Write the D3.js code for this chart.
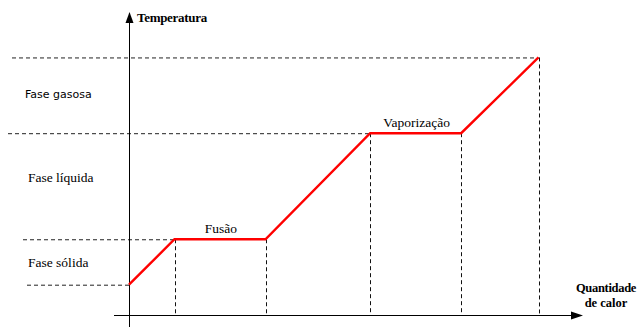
<!DOCTYPE html>
<html>
<head>
<meta charset="utf-8">
<script src="https://cdn.jsdelivr.net/npm/d3@7"></script>
<style>
  html, body { margin: 0; padding: 0; background: #fff; }
  svg { display: block; }
</style>
</head>
<body>
<svg id="chart" width="641" height="327" style='font-family: "Times New Roman"'></svg>
<script>
// Heating curve of a pure substance: heat supplied vs. temperature
const heat = [0, 1, 3, 5.3, 7.3, 9];          // quantity of heat (arbitrary units)
const temperature = [10, 25, 25, 60, 60, 85];  // temperature (arbitrary units)
const phaseLevels = [10, 25, 60, 85];          // temperature reference levels
const phaseNames = ["Fase sólida", "Fase líquida", "Fase gasosa"];
const transitionNames = ["Fusão", "Vaporização"];
const axisTitles = { y: "Temperatura", x: ["Quantidade", "de calor"] };

const SERIF = '"Times New Roman"';
const SANS = '"DejaVu Sans"';

const svg = d3.select("#chart");
const x = d3.scaleLinear().domain([0, 10]).range([129, 584]);
const y = d3.scaleLinear().domain([0, 100]).range([315, 12]);

// Axis titles
svg.append("text").attr("x", 137).attr("y", 22)
  .style("font-family", SERIF).style("font-weight", "bold").style("font-size", "13px")
  .style("letter-spacing", "-0.3px")
  .text(axisTitles.y);
svg.append("text").attr("x", 606).attr("y", 292).attr("text-anchor", "middle")
  .style("font-family", SERIF).style("font-weight", "bold").style("font-size", "12.5px")
  .style("letter-spacing", "-0.3px")
  .text(axisTitles.x[0]);
svg.append("text").attr("x", 606).attr("y", 307).attr("text-anchor", "middle")
  .style("font-family", SERIF).style("font-weight", "bold").style("font-size", "12.5px")
  .text(axisTitles.x[1]);

// Phase labels
const phaseY = [267, 182, 98];
phaseNames.forEach((name, i) => {
  svg.append("text")
    .attr("x", i === 2 ? 25 : 28)
    .attr("y", phaseY[i])
    .style("font-family", i === 2 ? SANS : SERIF)
    .style("font-size", i === 2 ? "11px" : "13.5px")
    .text(name);
});

// Transition labels above the plateaus
const plateaus = [[1, 2], [3, 4]];
transitionNames.forEach((name, i) => {
  const [a, b] = plateaus[i];
  svg.append("text")
    .attr("x", (x(heat[a]) + x(heat[b])) / 2 + 1)
    .attr("y", y(temperature[a]) - 6)
    .attr("text-anchor", "middle")
    .style("font-family", SERIF).style("font-size", "13.5px")
    .text(name);
});

// Horizontal dashed reference lines, each running from the left margin to its point on the curve
const hLeft = [27, 23, 8, 12];
const hRight = [heat[0], heat[1], heat[3], heat[5]];
svg.append("g").selectAll("line").data(phaseLevels).join("line")
  .attr("x1", (d, i) => hLeft[i])
  .attr("x2", (d, i) => x(hRight[i]))
  .attr("y1", d => y(d) + 0.5).attr("y2", d => y(d) + 0.5)
  .attr("stroke", "#222").attr("stroke-width", 1)
  .attr("stroke-dasharray", "4,3");

// Vertical dashed drops from each corner of the curve to the heat axis
svg.append("g").selectAll("line").data(d3.range(1, heat.length)).join("line")
  .attr("x1", i => Math.round(x(heat[i])) + 0.5).attr("x2", i => Math.round(x(heat[i])) + 0.5)
  .attr("y1", i => y(temperature[i])).attr("y2", y(0))
  .attr("stroke", "#111").attr("stroke-width", 1)
  .attr("stroke-dasharray", "4,3");

// Axes with arrowheads
svg.append("line").attr("x1", 114).attr("x2", 576)
  .attr("y1", y(0) + 0.5).attr("y2", y(0) + 0.5).attr("stroke", "#000").attr("stroke-width", 1);
svg.append("line").attr("x1", x(0) + 0.5).attr("x2", x(0) + 0.5)
  .attr("y1", 327).attr("y2", 18).attr("stroke", "#000").attr("stroke-width", 1);
svg.append("path")
  .attr("d", `M${x(0) + 0.5},12 L${x(0) - 3.5},23 L${x(0) + 4.5},23 Z`).attr("fill", "#000");
svg.append("path")
  .attr("d", `M583,${y(0) + 0.5} L571,${y(0) - 3.5} L571,${y(0) + 4.5} Z`).attr("fill", "#000");

// Heating curve
const line = d3.line().x((d, i) => x(heat[i])).y(d => y(d));
svg.append("path").datum(temperature)
  .attr("d", line)
  .attr("fill", "none").attr("stroke", "#ff0000").attr("stroke-width", 2.4)
  .attr("stroke-linejoin", "miter");
</script>
</body>
</html>
